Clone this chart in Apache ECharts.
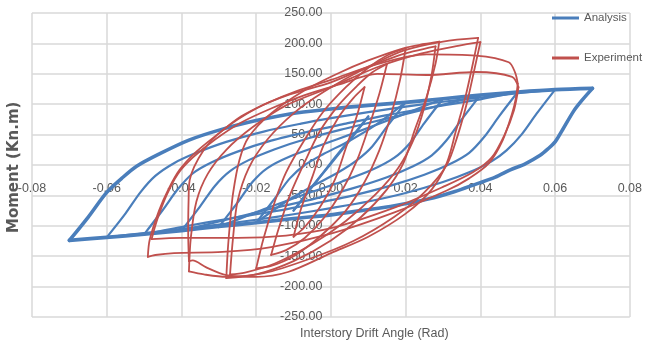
<!DOCTYPE html>
<html>
<head>
<meta charset="utf-8">
<script src="https://cdn.jsdelivr.net/npm/echarts@6/dist/echarts.min.js"></script>
<style>
  html, body { margin: 0; padding: 0; background: #fff; }
  #chart { width: 645px; height: 347px; }
</style>
</head>
<body>
<div id="chart"></div>
<script>
// Axis ticks
const xTicks = [-0.08, -0.06, -0.04, -0.02, 0, 0.02, 0.04, 0.06, 0.08];
const yTicks = [-250, -200, -150, -100, -50, 0, 50, 100, 150, 200, 250];

// Analysis: hysteresis branches [drift angle (rad), moment (kN.m)]
const anUp70 = [[-0.070,-124],[-0.065,-86],[-0.060,-45],[-0.056,-22],[-0.052,-2],[-0.046,18],[-0.038,41],[-0.029,59],[-0.020,73],[-0.011,84],[0,92],[0.010,98],[0.020,103],[0.030,109],[0.040,115],[0.050,120],[0.060,124],[0.070,126]];
const anDn70 = [[0.070,126],[0.067,105],[0.065,89],[0.062,58],[0.060,38],[0.058,26],[0.056,16],[0.052,2],[0.048,-8],[0.044,-20],[0.039,-31],[0.033,-44],[0.026,-56],[0.017,-67],[0.008,-75],[0,-82],[-0.010,-88],[-0.020,-95],[-0.030,-101],[-0.040,-108],[-0.050,-114],[-0.060,-119],[-0.070,-124]];
const anUp60 = [[-0.060,-119],[-0.055,-80],[-0.051,-45],[-0.047,-18],[-0.042,3],[-0.036,20],[-0.028,38],[-0.018,55],[-0.008,68],[0,77],[0.010,87],[0.020,96],[0.030,104],[0.040,111],[0.050,118],[0.060,124]];
const anDn60 = [[0.060,124],[0.055,84],[0.051,50],[0.047,24],[0.043,6],[0.037,-12],[0.030,-28],[0.020,-46],[0.010,-60],[0,-71],[-0.010,-81],[-0.020,-90],[-0.030,-98],[-0.040,-105],[-0.050,-112],[-0.060,-119]];
const anUp50 = [[-0.050,-114],[-0.045,-74],[-0.041,-40],[-0.037,-14],[-0.032,4],[-0.025,22],[-0.016,40],[-0.006,55],[0.004,68],[0.015,82],[0.027,95],[0.040,108],[0.050,120]];
const anDn50 = [[0.050,120],[0.045,80],[0.041,46],[0.037,20],[0.032,2],[0.025,-16],[0.016,-34],[0.006,-50],[-0.004,-63],[-0.015,-76],[-0.027,-88],[-0.040,-102],[-0.050,-114]];
const anUp40 = [[-0.040,-108],[-0.035,-68],[-0.031,-34],[-0.027,-10],[-0.022,8],[-0.015,26],[-0.006,44],[0.004,60],[0.016,78],[0.028,96],[0.040,115]];
const anDn40 = [[0.040,115],[0.035,75],[0.031,41],[0.027,16],[0.022,-2],[0.015,-20],[0.006,-38],[-0.004,-55],[-0.016,-72],[-0.028,-90],[-0.040,-108]];
const anUp30 = [[-0.030,-102],[-0.025,-62],[-0.021,-28],[-0.017,-5],[-0.011,14],[-0.003,32],[0.006,52],[0.018,80],[0.030,109]];
const anDn30 = [[0.030,109],[0.025,69],[0.021,35],[0.017,12],[0.011,-8],[0.003,-27],[-0.006,-46],[-0.018,-73],[-0.030,-102]];
const anUp20 = [[-0.020,-95],[-0.015,-55],[-0.011,-22],[-0.007,0],[-0.002,18],[0.005,40],[0.012,66],[0.020,103]];
const anDn20 = [[0.020,103],[0.015,63],[0.011,30],[0.007,8],[0.002,-12],[-0.005,-35],[-0.012,-60],[-0.020,-95]];
const anUp10 = [[-0.010,-75],[-0.005,-35],[0,2],[0.005,40],[0.010,80]];
const anDn10 = [[0.010,80],[0.005,42],[0,4],[-0.005,-36],[-0.010,-75]];

// Experiment: hysteresis branches [drift angle (rad), moment (kN.m)]
const exUp1 = [[-0.010,-118],[-0.008,-72],[-0.005,-20],[-0.002,32],[0.002,78],[0.006,110],[0.009,128]];
const exDn1 = [[0.009,128],[0.007,82],[0.004,28],[0.001,-25],[-0.003,-70],[-0.007,-102],[-0.010,-118]];
const exUp2 = [[-0.016,-148],[-0.014,-105],[-0.011,-50],[-0.007,5],[-0.003,55],[0.002,98],[0.007,130],[0.011,152],[0.015,166]];
const exDn2 = [[0.015,166],[0.013,118],[0.010,60],[0.007,8],[0.003,-42],[-0.002,-88],[-0.007,-120],[-0.012,-140],[-0.016,-148]];
const exUp3 = [[-0.020,-170],[-0.018,-120],[-0.015,-60],[-0.012,-12],[-0.007,42],[-0.002,88],[0.004,128],[0.010,160],[0.015,180],[0.020,192]];
const exDn3 = [[0.020,192],[0.0185,140],[0.016,80],[0.013,25],[0.009,-28],[0.004,-75],[-0.003,-118],[-0.010,-150],[-0.016,-166],[-0.020,-170]];
const exUp4 = [[-0.0280,-186],[-0.0276,-140],[-0.0270,-95],[-0.0262,-47],[-0.0245,8],[-0.022,46],[-0.016,85],[-0.007,123],[0.002,151],[0.010,172],[0.0194,192],[0.025,199],[0.029,203]];
const exDn4 = [[0.029,203],[0.028,167],[0.0256,112],[0.0224,57],[0.0194,3],[0.015,-40],[0.008,-86],[0,-124],[-0.010,-158],[-0.020,-180],[-0.028,-186]];
const exUp4b = [[-0.027,-180],[-0.0262,-120],[-0.025,-60],[-0.022,-5],[-0.017,42],[-0.010,85],[-0.002,120],[0.008,155],[0.018,180],[0.028,195]];
const exDn4b = [[0.028,195],[0.027,150],[0.025,95],[0.022,40],[0.018,-5],[0.012,-48],[0.004,-92],[-0.005,-130],[-0.015,-162],[-0.023,-177],[-0.027,-180]];
const exUp5 = [[-0.0380,-158],[-0.0382,-110],[-0.0381,-60],[-0.0378,-25],[-0.034,25],[-0.029,57],[-0.020,93],[-0.011,116],[0,136],[0.010,162],[0.0194,188],[0.030,203],[0.0394,209]];
const exDn5 = [[0.0394,209],[0.038,167],[0.036,112],[0.0335,57],[0.031,3],[0.027,-40],[0.020,-80],[0.010,-118],[0,-145],[-0.0115,-176],[-0.020,-184],[-0.028,-181],[-0.0335,-168],[-0.0370,-157],[-0.0380,-158]];
const exUp5b = [[-0.038,-175],[-0.0375,-120],[-0.036,-60],[-0.033,-15],[-0.028,25],[-0.021,62],[-0.012,98],[0,128],[0.012,160],[0.024,183],[0.034,196],[0.040,202]];
const exDn5b = [[0.040,202],[0.0385,160],[0.0365,105],[0.034,50],[0.031,0],[0.025,-45],[0.017,-85],[0.006,-125],[-0.006,-155],[-0.018,-178],[-0.028,-184],[-0.034,-180],[-0.038,-175]];
const exUp6 = [[-0.049,-151],[-0.0485,-123],[-0.046,-75],[-0.0435,-40],[-0.0405,-8],[-0.036,22],[-0.030,52],[-0.024,80],[-0.017,102],[-0.009,122],[0,140],[0.0124,166],[0.0256,182],[0.0388,180],[0.0476,169],[0.0493,152],[0.050,134]];
const exDn6 = [[0.050,134],[0.0495,110],[0.0485,85],[0.046,41],[0.0423,3],[0.037,-22],[0.031,-42],[0.017,-78],[0,-113],[-0.016,-135],[-0.029,-143],[-0.042,-145],[-0.047,-148],[-0.049,-151]];
const exUp6b = [[-0.048,-122],[-0.0465,-90],[-0.044,-50],[-0.041,-15],[-0.037,12],[-0.031,42],[-0.024,70],[-0.016,93],[-0.007,115],[0.002,132],[0.0124,150],[0.0256,148],[0.0388,153],[0.0485,145],[0.0502,128]];
const exDn6b = [[0.0502,128],[0.049,90],[0.0465,50],[0.043,12],[0.038,-12],[0.030,-36],[0.017,-70],[0,-104],[-0.012,-116],[-0.025,-120],[-0.040,-120],[-0.048,-122]];

const BLUE = '#4a7ebb';
const RED = '#c0504d';
const TEXT = '#595959';
const GRID = '#d9d9d9';
const NARROW = '"Liberation Sans Narrow", "Liberation Sans", sans-serif';

const outerAnalysis = [anUp70, anDn70];
const innerAnalysis = [anUp60, anDn60, anUp50, anDn50, anUp40, anDn40, anUp30, anDn30, anUp20, anDn20, anUp10, anDn10];
const experiment = [exUp1, exDn1, exUp2, exDn2, exUp3, exDn3, exUp4, exDn4, exUp4b, exDn4b,
                    exUp5, exDn5, exUp5b, exDn5b, exUp6, exDn6, exUp6b, exDn6b];

function branch(name, data, color, width, z) {
  return {
    name: name, type: 'line', data: data, symbol: 'none', showSymbol: false,
    smooth: 0.3, z: z, silent: true,
    lineStyle: { color: color, width: width, cap: 'round', join: 'round' },
    itemStyle: { color: color }
  };
}

const series = []
  .concat(innerAnalysis.map(d => branch('Analysis', d, BLUE, 2.2, 2)))
  .concat(outerAnalysis.map(d => branch('Analysis', d, BLUE, 3.6, 3)))
  .concat(experiment.map(d => branch('Experiment', d, RED, 1.8, 4)));

// plot box
const GRID_LEFT = 32, GRID_RIGHT = 10, GRID_TOP = 13, GRID_BOTTOM = 30;
const plotW = 645 - GRID_LEFT - GRID_RIGHT;
const plotH = 347 - GRID_TOP - GRID_BOTTOM;

const chart = echarts.init(document.getElementById('chart'), null, { renderer: 'canvas' });
chart.setOption({
  animation: false,
  backgroundColor: '#ffffff',
  grid: { left: GRID_LEFT, right: GRID_RIGHT, top: GRID_TOP, bottom: GRID_BOTTOM, containLabel: false },
  xAxis: {
    type: 'value', min: xTicks[0], max: xTicks[xTicks.length - 1], interval: 0.02,
    position: 'bottom', offset: -plotH / 2,
    axisLine: { show: false, onZero: false },
    axisTick: { show: false },
    axisLabel: { color: TEXT, fontFamily: NARROW, fontSize: 12.5, margin: 17,
                 formatter: v => v.toFixed(2) },
    splitLine: { show: true, lineStyle: { color: GRID, width: 1.5 } }
  },
  yAxis: {
    type: 'value', min: yTicks[0], max: yTicks[yTicks.length - 1], interval: 50,
    position: 'left', offset: -plotW / 2,
    axisLine: { show: false, onZero: false },
    axisTick: { show: false },
    axisLabel: { color: TEXT, fontFamily: NARROW, fontSize: 12.5, margin: 11,
                 formatter: v => v.toFixed(2) },
    splitLine: { show: true, lineStyle: { color: GRID, width: 1.5 } }
  },
  legend: {
    data: ['Analysis', 'Experiment'],
    orient: 'vertical', left: 552, top: 12, padding: 0,
    icon: 'rect', itemWidth: 27, itemHeight: 3, itemGap: 28,
    textStyle: { color: TEXT, fontFamily: NARROW, fontSize: 11.5 },
    selectedMode: false
  },
  graphic: [
    { type: 'text', left: 300, top: 327,
      style: { text: 'Interstory Drift Angle (Rad)', fill: TEXT, font: '12.5px ' + NARROW } },
    { type: 'text', x: 7, y: 233, rotation: Math.PI / 2,
      style: { text: 'Moment (Kn.m)', fill: TEXT, font: 'bold 15px "DejaVu Sans", sans-serif' } }
  ],
  series: series
});
</script>
</body>
</html>
